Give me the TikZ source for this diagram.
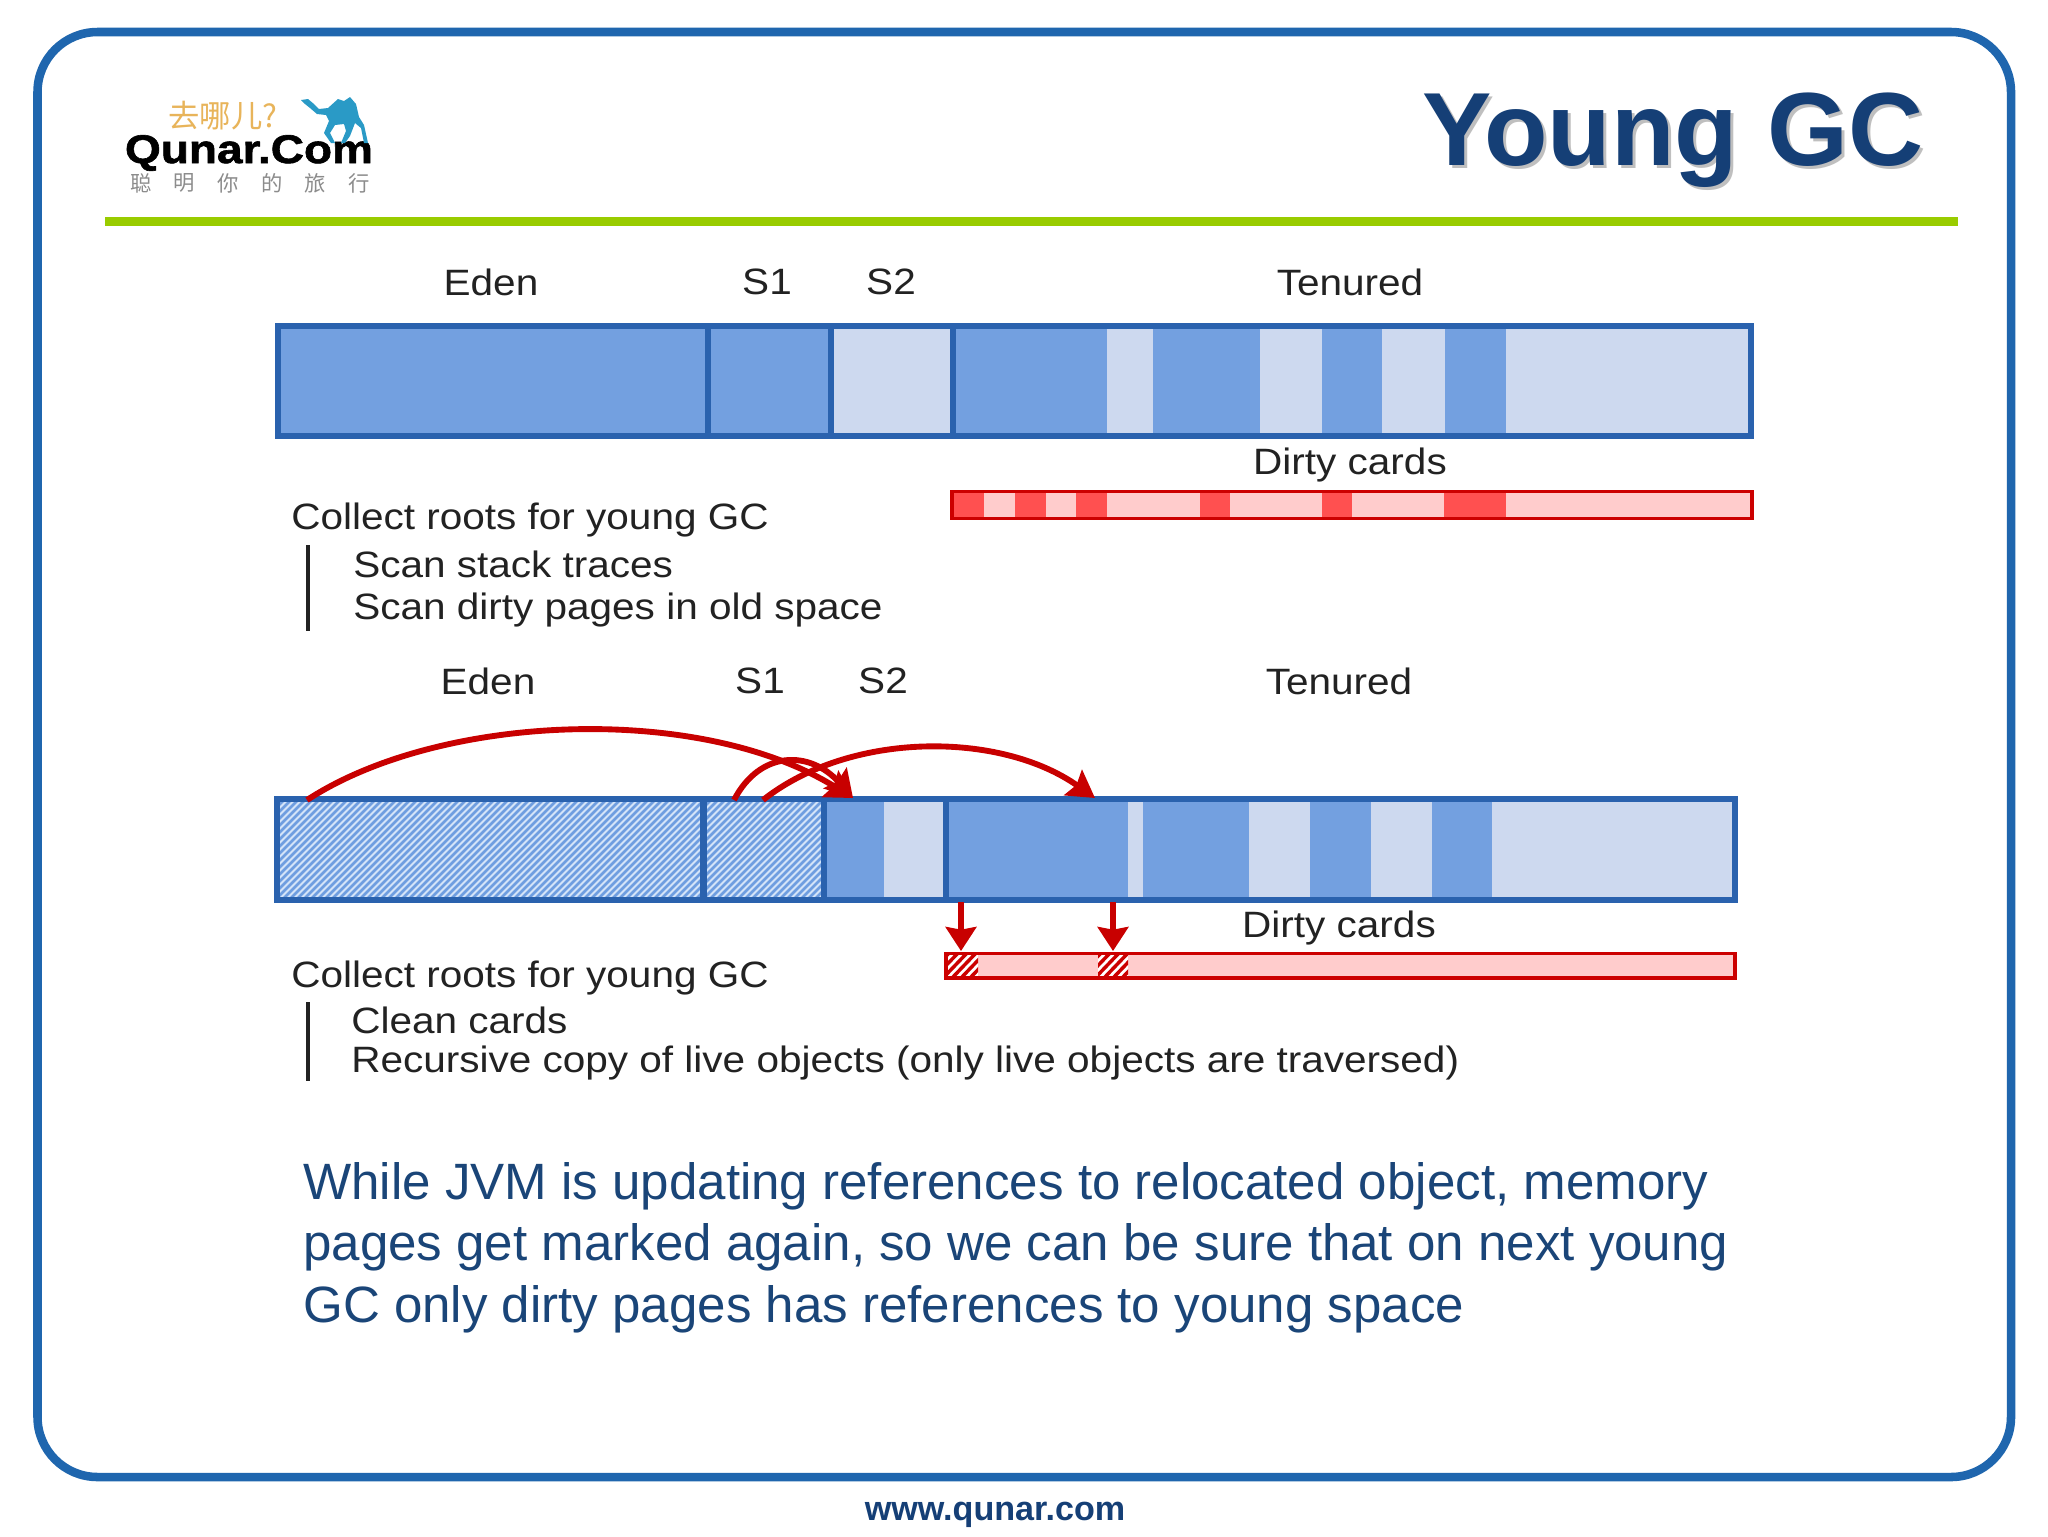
\documentclass[tikz,border=0pt]{standalone}
\usepackage{fontspec}
\setmainfont{Liberation Sans}
\newfontfamily\cjkfont{Noto Sans CJK SC}
\newfontfamily\labelfont[FakeStretch=1.105]{Liberation Sans}
\newfontfamily\brandfont[FakeStretch=1.15,BoldFeatures={FakeBold=1.5}]{Liberation Sans}
\definecolor{frameblue}{HTML}{1F66AE}
\definecolor{barline}{HTML}{2A62AE}
\definecolor{fulls}{HTML}{73A0E0}
\definecolor{pales}{HTML}{CDD9EF}
\definecolor{hatchb}{HTML}{6F9EE0}
\definecolor{hatchl}{HTML}{D4E4F8}
\definecolor{cardline}{HTML}{CC0000}
\definecolor{cardfull}{HTML}{FF5050}
\definecolor{cardpale}{HTML}{FFCCCC}
\definecolor{arrowred}{HTML}{C80000}
\definecolor{navy}{HTML}{1A4578}
\definecolor{titleblue}{HTML}{153F76}
\definecolor{limebar}{HTML}{99CC00}
\definecolor{camelblue}{HTML}{2A9AC6}
\definecolor{inktext}{HTML}{222222}
\definecolor{sloganorange}{HTML}{E8B45A}
\usetikzlibrary{arrows.meta}
\newcommand{\fs}[1]{\fontsize{#1}{#1}\selectfont}
\tikzset{
  x=0.75pt,y=-0.75pt,
  label/.style={inner sep=0,text=inktext,font=\labelfont\fs{27.5}},
  leftlabel/.style={label,anchor=west},
  paraline/.style={inner sep=0,anchor=west,text=navy,font=\fs{38.3}},
  curved/.style={draw=arrowred,line width=4.4pt,-{Stealth[length=20pt,width=23pt,inset=3pt]}},
  downarrow/.style={draw=arrowred,line width=3.8pt,-{Stealth[length=18pt,width=23pt,inset=2pt]}},
}
\begin{document}
\begin{tikzpicture}
\useasboundingbox (0,0) rectangle (2048,1536);
\fill[white] (0,0) rectangle (2048,1536);
% frame
\draw[frameblue,line width=6.4pt,rounded corners=45pt] (37.5,32) rectangle (2011,1477);
\fill[limebar] (105,217) rectangle (1958,225.5);
% logo
\node[inner sep=0,text=sloganorange,font=\cjkfont\fs{23.5}] (slogan) at (223,116) {去哪儿?};
\node[inner sep=0,font=\brandfont\bfseries\fs{30}] (brand) at (249,153) {Qunar.Com};
\foreach \cx/\ch in {141/聪,184/明,228/你,272/的,315/旅,359/行}
  \node[inner sep=0,text=black!45,font=\cjkfont\fs{16}] at (\cx,183) {\ch};
\fill[camelblue] (301,100) -- (308,99) -- (314,104) -- (319,109) -- (328,108) -- (338,99) -- (344,101) -- (350,97) -- (356,104) -- (359,117) -- (364,125) -- (368,143) -- (364,143) -- (361,128) -- (355,123) -- (350,136) -- (345,143) -- (341,143) -- (346,131) -- (344,124) -- (335,125) -- (330,133) -- (335,143) -- (331,143) -- (324,133) -- (329,121) -- (326,115) -- (317,114) -- (310,108) -- (305,104) -- cycle;
% title
\node[inner sep=0,text=black!25,font=\bfseries\fs{78}] at (1676,143) {Young GC};
\node[inner sep=0,text=titleblue,font=\bfseries\fs{78}] (title) at (1673,140) {Young GC};
% upper bar
\fill[fulls] (278,326) rectangle (1751,436);
\fill[pales] (831,326) rectangle (953,436);
\foreach \a/\b in {1107/1153,1260/1322,1382/1445,1506/1751}
  \fill[pales] (\a,326) rectangle (\b,436);
\draw[barline,line width=4.6pt] (278,326) rectangle (1751,436);
\foreach \a in {708,831,953} \draw[barline,line width=4.6pt] (\a,326) -- (\a,436);
% upper cards
\fill[cardpale] (952,492) rectangle (1752,518);
\foreach \a/\b in {952/984,1015/1046,1076/1107,1200/1230,1322/1352,1444/1506}
  \fill[cardfull] (\a,492) rectangle (\b,518);
\draw[cardline,line width=2.8pt] (952,491.5) rectangle (1752,518.5);
% upper labels
\node[label] (eden1) at (491,282) {Eden};
\node[label] (s11) at (767,282) {S1};
\node[label] (s21) at (891,282) {S2};
\node[label] (ten1) at (1350,282) {Tenured};
\node[label] (dirty1) at (1350,465) {Dirty cards};
\node[leftlabel] (col1) at (291,520) {Collect roots for young GC};
\node[leftlabel] (scan1) at (353,564) {Scan stack traces};
\node[leftlabel] (scan2) at (353,610) {Scan dirty pages in old space};
\draw[inktext,line width=2.6pt] (308,545) -- (308,631);
% lower bar
\fill[fulls] (824,799) rectangle (1735,900);
\foreach \a/\b in {884/946,1128/1143,1249/1310,1371/1432,1492/1735}
  \fill[pales] (\a,799) rectangle (\b,900);
\fill[hatchl] (277,799) rectangle (824,900);
\begin{scope}
\clip (277,799) rectangle (824,900);
\foreach \i in {0,7,...,700}
  \draw[hatchb,line width=2pt] (\i+170,900) -- (\i+271,799);
\end{scope}
\draw[barline,line width=4.6pt] (277,799) rectangle (1735,900);
\foreach \a in {703.5,824,946} \draw[barline,line width=4.6pt] (\a,799) -- (\a,900);
% lower cards
\fill[cardpale] (946,954) rectangle (1735,977);
\foreach \a/\b in {946/978,1098/1128}{
  \begin{scope}
  \clip (\a,954) rectangle (\b,977);
  \fill[white] (\a,954) rectangle (\b,977);
  \foreach \i in {-30,-21,...,40}
    \draw[cardline,line width=2.6pt] (\a+\i,978) -- (\a+\i+24,953);
  \end{scope}
}
\draw[cardline,line width=2.8pt] (946,953.5) rectangle (1735,978);
% lower labels
\node[label] (eden2) at (488,681) {Eden};
\node[label] (s12) at (760,681) {S1};
\node[label] (s22) at (883,681) {S2};
\node[label] (ten2) at (1339,681) {Tenured};
\node[label] (dirty2) at (1339,928) {Dirty cards};
\node[leftlabel] (col2) at (291,978) {Collect roots for young GC};
\node[leftlabel] (clean) at (351,1020) {Clean cards};
\node[leftlabel] (rec) at (351,1063) {Recursive copy of live objects (only live objects are traversed)};
\draw[inktext,line width=2.6pt] (308,1002) -- (308,1081);
% arrows
\coordinate (edenout) at (307,800);
\coordinate (s1outa) at (734,800);
\coordinate (s1outb) at (763,800);
\coordinate (s2in) at (853,798);
\coordinate (tenin) at (1095,798);
\coordinate (upa) at (961,902);
\coordinate (upb) at (1113,902);
\coordinate (cardina) at (961,951);
\coordinate (cardinb) at (1113,951);
\draw[curved] (edenout) .. controls (440,713) and (700,703) .. (s2in);
\draw[curved] (s1outa) .. controls (760,750) and (810,750) .. (s2in);
\draw[curved] (s1outb) .. controls (850,731) and (1000,731) .. (tenin);
\draw[downarrow] (upa) -- (cardina);
\draw[downarrow] (upb) -- (cardinb);
% paragraph
\node[paraline] (para1) at (303,1186) {While JVM is updating references to relocated object, memory};
\node[paraline] (para2) at (303,1247) {pages get marked again, so we can be sure that on next young};
\node[paraline] (para3) at (303,1309) {GC only dirty pages has references to young space};
\node[inner sep=0,text=titleblue,font=\bfseries\fs{25.6}] (site) at (995,1515) {www.qunar.com};
\end{tikzpicture}
\end{document}
